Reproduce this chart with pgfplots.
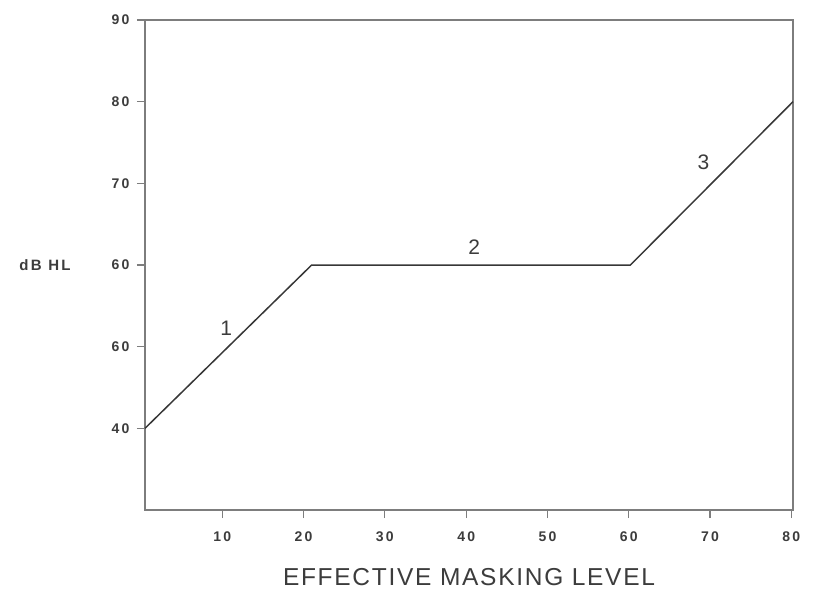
\documentclass[border=0pt]{standalone}
\usepackage{fontspec}
\setmainfont{Liberation Sans}
\newfontfamily\tickfont[LetterSpace=16]{Liberation Sans}
\newfontfamily\labfont[LetterSpace=7]{Liberation Sans}
\usepackage{pgfplots}
\pgfplotsset{compat=1.18}
\definecolor{axisgray}{RGB}{125,125,125}
\definecolor{linegray}{RGB}{55,55,55}
\definecolor{txtgray}{RGB}{60,60,60}
\begin{document}
\begin{tikzpicture}
\begin{axis}[
    scale only axis,
    width=648bp, height=490bp,
    xmin=0.5, xmax=80.2,
    ymin=30, ymax=90,
    xtick={10,20,...,80},
    ytick={40,50,60,70,80,90},
    yticklabels={40,60,60,70,80,90},
    tick align=outside,
    major tick length=8bp,
    xtick pos=bottom, ytick pos=left,
    axis line style={axisgray, line width=1.4bp},
    tick style={axisgray, line width=1.2bp},
    ticklabel style={font=\tickfont\fontsize{14bp}{16bp}\selectfont\bfseries, text=txtgray},
    /pgf/number format/assume math mode=true,
    xticklabel style={yshift=-10bp},
    yticklabel style={xshift=-4bp},
    xlabel={EFFECTIVE MASKING LEVEL},
    xlabel style={font=\labfont\fontsize{24.5bp}{28bp}\selectfont, text=txtgray, yshift=-20bp},
    clip=false,
]
\addplot[linegray, line width=1.5bp] coordinates {(0.5,40) (21,60) (60.2,60) (80.2,80)};
\node[text=txtgray, font=\fontsize{21bp}{24bp}\selectfont] at (axis cs:10.5,52.3) {1};
\node[text=txtgray, font=\fontsize{21bp}{24bp}\selectfont] at (axis cs:41,62.2) {2};
\node[text=txtgray, font=\fontsize{21bp}{24bp}\selectfont] at (axis cs:69.2,72.6) {3};
\node[text=txtgray, font=\tickfont\fontsize{15bp}{17bp}\selectfont\bfseries] at (axis cs:-11.8,60) {dB HL};
\end{axis}
\path[use as bounding box] (-145bp,-81bp) rectangle (671bp,510bp);
\end{tikzpicture}
\end{document}
